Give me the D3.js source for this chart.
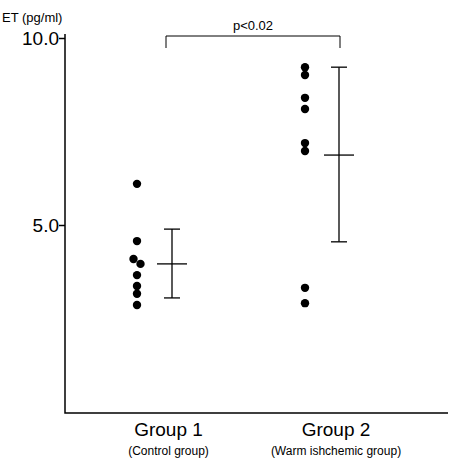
<!DOCTYPE html>
<html><head><meta charset="utf-8">
<script src="https://cdn.jsdelivr.net/npm/d3@7"></script>
<style>body{margin:0;background:#fff}</style></head>
<body><div id="chart"></div>
<script>
// data
var groups = ["Group 1", "Group 2"];
var subLabels = ["(Control group)", "(Warm ishchemic group)"];
var values1 = [6.10, 4.57, 4.09, 3.96, 3.66, 3.37, 3.16, 2.86];
var jitter1 = [0, 0, -1, 1, 0, 0, 0, 0];
var values2 = [9.22, 9.01, 8.40, 8.10, 7.19, 6.98, 3.32, 2.91];
var jitter2 = [0, 0, 0, 0, 0, 0, 0, 0];
var means = [3.96, 6.87];
var upper = [4.89, 9.22];
var lower = [3.05, 4.55];
var yTicks = [5.0, 10.0];

var svgWidth = 467, svgHeight = 460;
var svg = d3.select("#chart").append("svg")
  .attr("width", svgWidth).attr("height", svgHeight);

var y = d3.scaleLinear().domain([0, 10]).range([412, 38]);
// dot column and error bar column per group
var xDot = d3.scaleLinear().domain([0, 1]).range([137, 305]);
var xBar = d3.scaleLinear().domain([0, 1]).range([172, 339]);
var jit = 3.5;

svg.append("path").attr("d", "M65,34V413H448")
  .attr("fill", "none").attr("stroke", "#000").attr("stroke-width", 1.5);

var yAxis = d3.axisLeft(y).tickValues(yTicks).tickFormat(d3.format(".1f")).tickSize(6);
var ga = svg.append("g").attr("transform", "translate(65,0)").call(yAxis);
ga.select(".domain").remove();
ga.selectAll("line").attr("stroke-width", 1.5);
ga.selectAll("text").attr("font-family", "Liberation Sans, Arial, sans-serif")
  .attr("font-size", 19).attr("fill", "#000").attr("x", -6);

svg.append("text").attr("x", 2).attr("y", 22).text("ET (pg/ml)")
  .attr("font-family", "Liberation Sans, Arial, sans-serif").attr("font-size", 13);

[values1, values2].forEach(function(vals, g) {
  var jj = g === 0 ? jitter1 : jitter2;
  svg.selectAll(null).data(vals).enter().append("circle")
    .attr("cx", function(d, i) { return xDot(g) + jj[i] * jit; })
    .attr("cy", function(d) { return y(d); })
    .attr("r", 4.2).attr("fill", "#000");
  var bx = xBar(g);
  var bar = svg.append("g").attr("stroke", "#000").attr("stroke-width", 1.3);
  bar.append("line").attr("x1", bx).attr("x2", bx).attr("y1", y(upper[g])).attr("y2", y(lower[g]));
  bar.append("line").attr("x1", bx - 8).attr("x2", bx + 8).attr("y1", y(upper[g])).attr("y2", y(upper[g]));
  bar.append("line").attr("x1", bx - 8).attr("x2", bx + 8).attr("y1", y(lower[g])).attr("y2", y(lower[g]));
  bar.append("line").attr("x1", bx - 15).attr("x2", bx + 15).attr("y1", y(means[g])).attr("y2", y(means[g]));

  var cx = (xDot(g) + xBar(g)) / 2 + 14;
  svg.append("text").attr("x", cx).attr("y", 436).attr("text-anchor", "middle")
    .attr("font-family", "Liberation Sans, Arial, sans-serif").attr("font-size", 19).text(groups[g]);
  svg.append("text").attr("x", cx).attr("y", 455).attr("text-anchor", "middle")
    .attr("font-family", "Liberation Sans, Arial, sans-serif").attr("font-size", 12).text(subLabels[g]);
});

// significance bracket
svg.append("path").attr("d", "M166,48V36H340V48")
  .attr("fill", "none").attr("stroke", "#000").attr("stroke-width", 1);
svg.append("text").attr("x", 253).attr("y", 30).attr("text-anchor", "middle")
  .attr("font-family", "Liberation Sans, Arial, sans-serif").attr("font-size", 13).text("p<0.02");
</script></body></html>
